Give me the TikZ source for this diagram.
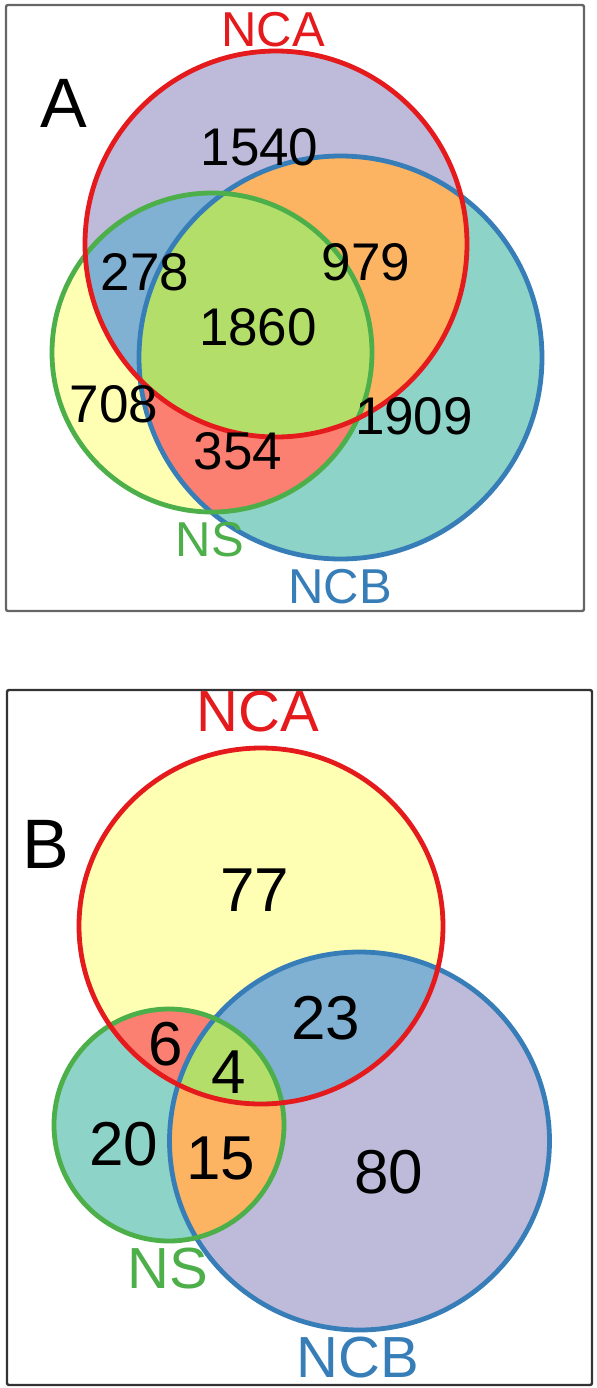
\documentclass[tikz,border=0pt]{standalone}
\usepackage{fontspec}
\setmainfont{Liberation Sans}

\definecolor{vyellow}{HTML}{FFFFB3}
\definecolor{vteal}{HTML}{8DD3C7}
\definecolor{vlilac}{HTML}{BEBADA}
\definecolor{vsalmon}{HTML}{FB8072}
\definecolor{vblue}{HTML}{80B1D3}
\definecolor{vorange}{HTML}{FDB462}
\definecolor{vgreen}{HTML}{B3DE69}
\definecolor{ncared}{HTML}{E41A1C}
\definecolor{ncbblue}{HTML}{377EB8}
\definecolor{nsgreen}{HTML}{4DAF4A}

% set outlines, panel A
\newcommand{\ncaA}{(276,244) ellipse [x radius=191, y radius=193]}
\newcommand{\ncbA}{(340.5,357.5) ellipse [x radius=201.5, y radius=201.5]}
\newcommand{\nsA}{(212,352.5) ellipse [x radius=160, y radius=159.5]}
% set outlines, panel B
\newcommand{\ncaB}{(261,926) ellipse [x radius=182, y radius=178]}
\newcommand{\ncbB}{(359.5,1141) ellipse [x radius=190, y radius=189]}
\newcommand{\nsB}{(169,1125) ellipse [x radius=115, y radius=116]}

\begin{document}
\begin{tikzpicture}[
    x=0.5pt, y=-0.5pt,
    ring/.style={line width=2.4pt},
    frame/.style={line width=1.2pt, rounded corners=1pt},
    numA/.style={inner sep=0pt, font=\fontsize{26.5}{30}\selectfont},
    numB/.style={inner sep=0pt, font=\fontsize{31}{34}\selectfont},
    setA/.style={inner sep=0pt, font=\fontsize{24.5}{28}\selectfont},
    setB/.style={inner sep=0pt, font=\fontsize{29}{32}\selectfont},
    panel/.style={inner sep=0pt, font=\fontsize{35}{38}\selectfont}
]
\useasboundingbox (0,0) rectangle (597,1388);

%% panel A
\draw[frame, black!60] (6,5) rectangle (584,611);

\fill[vlilac] \ncaA;
\fill[vteal] \ncbA;
\fill[vyellow] \nsA;
\begin{scope}
    \clip \ncaA;
    \fill[vorange] \ncbA;
    \fill[vblue] \nsA;
\end{scope}
\begin{scope}
    \clip \ncbA;
    \fill[vsalmon] \nsA;
    \clip \ncaA;
    \fill[vgreen] \nsA;
\end{scope}
\draw[ring, ncbblue] \ncbA;
\draw[ring, nsgreen] \nsA;
\draw[ring, ncared] \ncaA;

\node[panel] (labA) at (64,103) {A};
\node[setA, text=ncared] (ncaAlbl) at (273,30) {NCA};
\node[setA, text=nsgreen] (nsAlbl) at (210,540) {NS};
\node[setA, text=ncbblue] (ncbAlbl) at (340,587) {NCB};

\node[numA] (a1540) at (259.5,147.5) {1540};
\node[numA] (a278) at (145,272) {278};
\node[numA] (a979) at (366,262) {979};
\node[numA] (a1860) at (258,327) {1860};
\node[numA] (a708) at (114,404) {708};
\node[numA] (a1909) at (414,416) {1909};
\node[numA] (a354) at (238,451) {354};

%% panel B
\draw[frame, black!80] (7,690) rectangle (592,1385);

\fill[vyellow] \ncaB;
\fill[vlilac] \ncbB;
\fill[vteal] \nsB;
\begin{scope}
    \clip \ncaB;
    \fill[vblue] \ncbB;
    \fill[vsalmon] \nsB;
\end{scope}
\begin{scope}
    \clip \ncbB;
    \fill[vorange] \nsB;
    \clip \ncaB;
    \fill[vgreen] \nsB;
\end{scope}
\draw[ring, ncbblue] \ncbB;
\draw[ring, nsgreen] \nsB;
\draw[ring, ncared] \ncaB;

\node[panel] (labB) at (46,844) {B};
\node[setB, text=ncared] (ncaBlbl) at (258,712) {NCA};
\node[setB, text=nsgreen] (nsBlbl) at (168,1269) {NS};
\node[setB, text=ncbblue] (ncbBlbl) at (358,1358) {NCB};

\node[numB] (b77) at (255,890) {77};
\node[numB] (b23) at (326,1018) {23};
\node[numB] (b6) at (166,1044) {6};
\node[numB] (b4) at (229,1072) {4};
\node[numB] (b20) at (124,1144) {20};
\node[numB] (b15) at (221,1158) {15};
\node[numB] (b80) at (389,1172) {80};
\end{tikzpicture}
\end{document}
